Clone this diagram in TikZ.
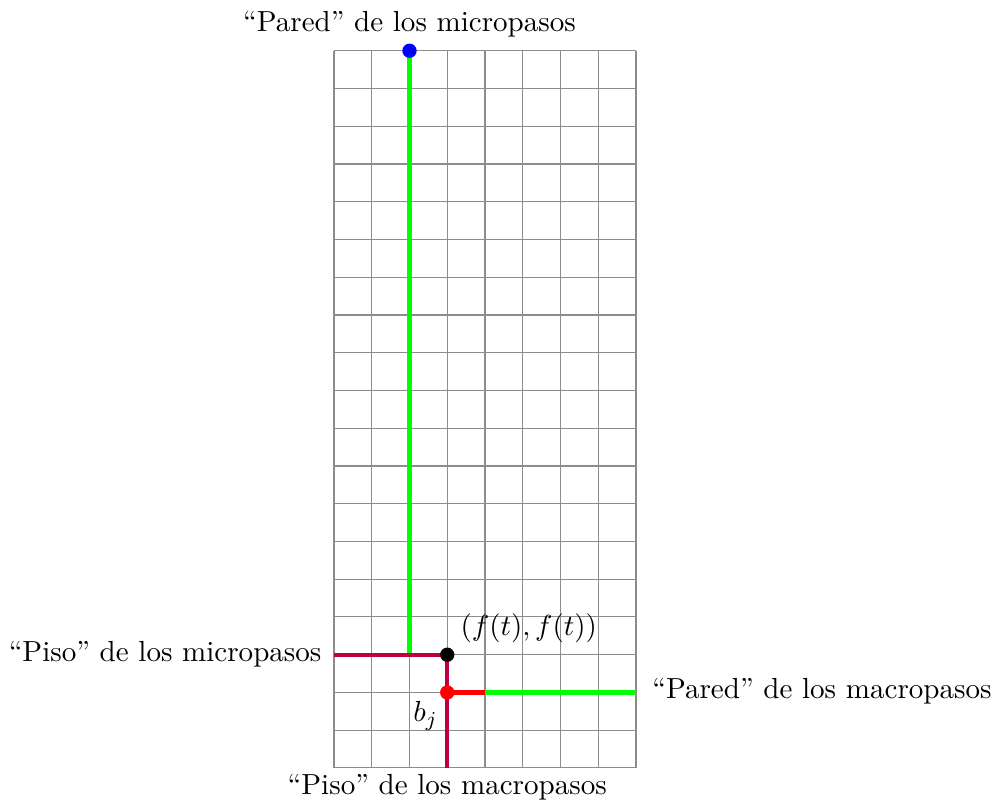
\documentclass[tikz,border=0pt]{standalone}
\begin{document}
\begin{tikzpicture}[x=0.5cm,y=0.5cm,
  font=\fontsize{10.95}{13.6}\selectfont,
  gridline/.style={gray!90,line width=0.4pt},
  pathline/.style={line width=1.6pt},
  dotnode/.style={circle,inner sep=0pt,minimum size=0.19cm},
  lbl/.style={inner sep=0pt}]
\useasboundingbox (-8.848,-1.033) rectangle (17.51,20.344);
\foreach \i in {0,...,8} \draw[gridline] (\i,0) -- (\i,19);
\foreach \j in {0,...,19} \draw[gridline] (0,\j) -- (8,\j);
% named points
\coordinate (wm) at (2,19);
\coordinate (gb) at (2,3);
\coordinate (fm) at (0,3);
\coordinate (pt) at (3,3);
\coordinate (bj) at (3,2);
\coordinate (rr) at (4,2);
\coordinate (wM) at (8,2);
\coordinate (fM) at (3,0);
% paths
\draw[pathline,green] (wm) -- (gb);
\draw[pathline,purple] (fm) -- (pt);
\draw[pathline,purple] (pt) -- (fM);
\draw[pathline,red] (bj) -- (rr);
\draw[pathline,green] (rr) -- (wM);
% dots
\node[dotnode,fill=blue] (dwm) at (wm) {};
\node[dotnode,fill=black] (dpt) at (pt) {};
\node[dotnode,fill=red] (dbj) at (bj) {};
% labels
\node[lbl,anchor=base] (lwm) at (2,19.50) {``Pared'' de los micropasos};
\node[lbl,anchor=base east] (lfm) at (-0.32,2.83) {``Piso'' de los micropasos};
\node[lbl,anchor=base west] (lwM) at (8.42,1.85) {``Pared'' de los macropasos};
\node[lbl,anchor=base] (lfM) at (3,-0.69) {``Piso'' de los macropasos};
\node[lbl,anchor=base west] (lpt) at (3.34,3.52) {$(f(t),f(t))$};
\node[lbl,anchor=base west] (lbj) at (2.09,1.22) {$b_j$};
\end{tikzpicture}
\end{document}
